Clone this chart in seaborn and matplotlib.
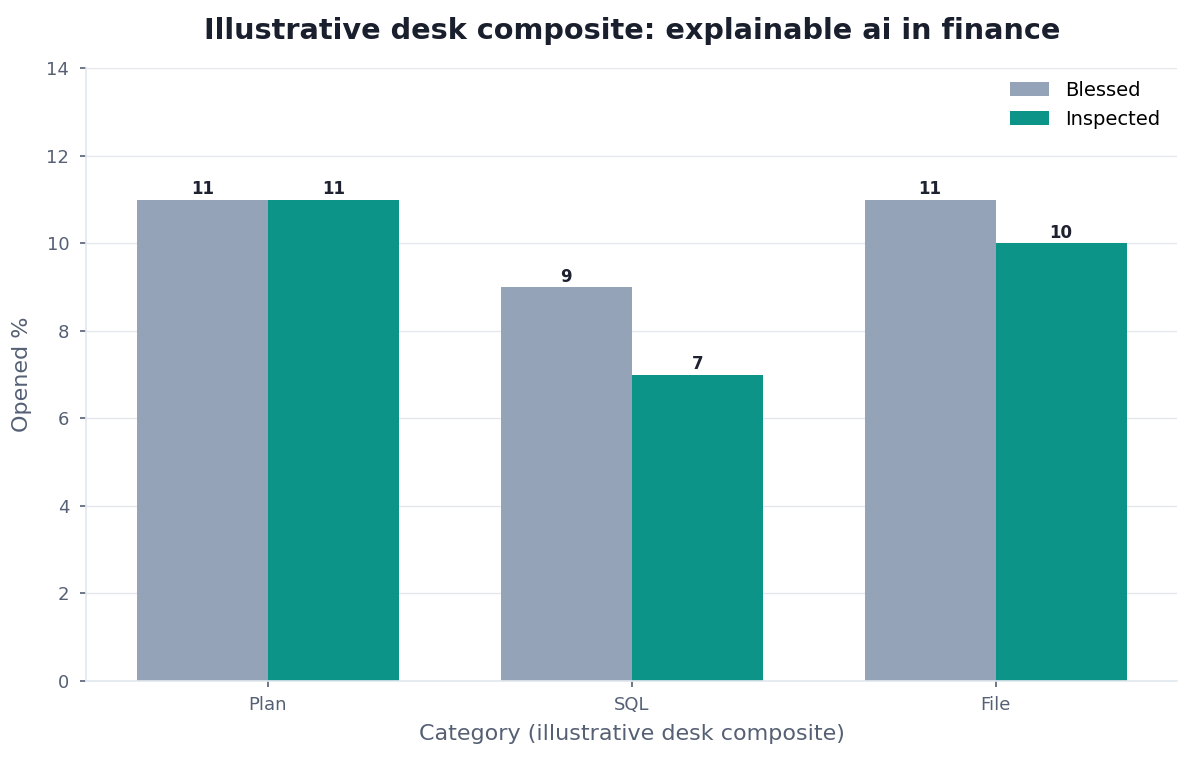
import matplotlib
matplotlib.use("Agg")
import matplotlib.pyplot as plt
import seaborn as sns
import pandas as pd

# data
categories = ["Plan", "SQL", "File"]
blessed = [11, 9, 11]
inspected = [11, 7, 10]
series_names = ["Blessed", "Inspected"]

df = pd.DataFrame({
    "Category": categories * 2,
    "Value": blessed + inspected,
    "Series": [series_names[0]] * 3 + [series_names[1]] * 3,
})

sns.set_theme(style="whitegrid")
plt.rcParams["font.family"] = ["DejaVu Sans"]

fig, ax = plt.subplots(figsize=(11.93, 7.6), dpi=100)
sns.barplot(data=df, x="Category", y="Value", hue="Series",
            palette=["#94a3b8", "#0d9488"], width=0.72, saturation=1,
            linewidth=0, ax=ax, legend=True)

for cont in ax.containers:
    ax.bar_label(cont, fmt="%d", fontsize=12, fontweight="bold", color="#1e2130", padding=1)

ax.set_ylim(0, 14)
ax.set_xlim(-0.5, 2.5)
ax.set_yticks(range(0, 15, 2))
ax.set_title("Illustrative desk composite: explainable ai in finance",
             fontsize=20.7, fontweight="bold", color="#1a1f2e", pad=21)
ax.set_xlabel("Category (illustrative desk composite)", fontsize=16, color="#566074", labelpad=7)
ax.set_ylabel("Opened %", fontsize=16, color="#566074", labelpad=10)
ax.tick_params(axis="both", labelsize=13, labelcolor="#566074", color="#566074",
               length=4, width=1.2)
ax.tick_params(axis="x", bottom=True, pad=7)
ax.tick_params(axis="y", left=True, pad=8)
ax.grid(axis="y", color="#e5e7eb", linewidth=1)
ax.grid(axis="x", visible=False)
ax.set_axisbelow(True)
for s in ["top", "right"]:
    ax.spines[s].set_visible(False)
for s in ["left", "bottom"]:
    ax.spines[s].set_color("#e2e8f0")
    ax.spines[s].set_linewidth(1.2)

leg = ax.legend(frameon=False, fontsize=14, loc="upper right", handlelength=2.0,
                bbox_to_anchor=(1.0, 1.008), labelcolor="black")
leg.set_title(None)

fig.subplots_adjust(left=0.072, right=0.987, top=0.91, bottom=0.104)
fig.savefig("out.png", dpi=100)
